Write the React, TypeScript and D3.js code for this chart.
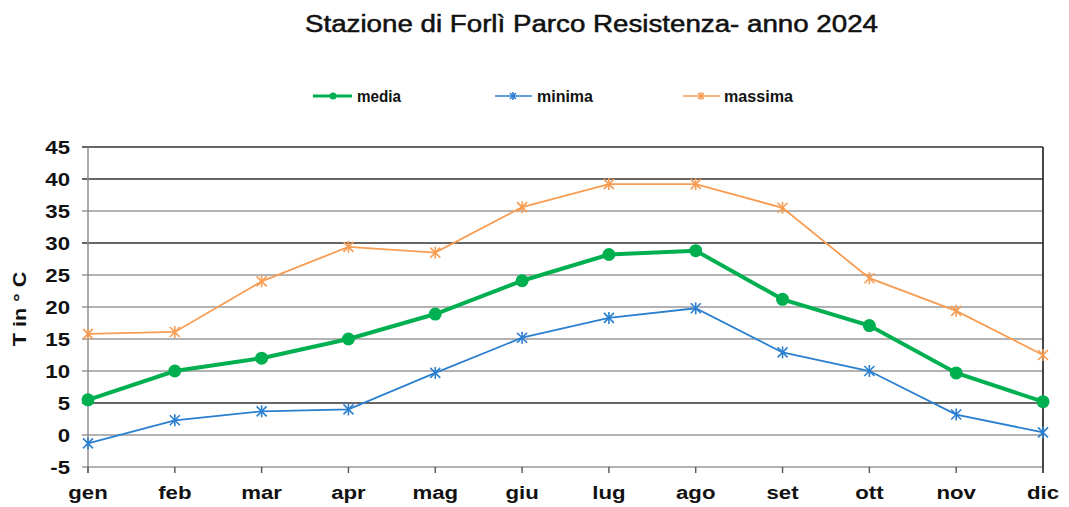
import React from "react";
import * as d3 from "d3";

const months = ["gen", "feb", "mar", "apr", "mag", "giu", "lug", "ago", "set", "ott", "nov", "dic"];
const media = [5.5, 10.0, 12.0, 15.0, 18.9, 24.1, 28.2, 28.8, 21.2, 17.1, 9.7, 5.2];
const minima = [-1.3, 2.3, 3.7, 4.0, 9.7, 15.2, 18.3, 19.8, 12.9, 10.0, 3.2, 0.4];
const massima = [15.8, 16.1, 24.0, 29.4, 28.5, 35.6, 39.2, 39.2, 35.5, 24.5, 19.4, 12.5];
const yTicks = [-5, 0, 5, 10, 15, 20, 25, 30, 35, 40, 45];
const darkGrid = [45, 40, 30, 5];

const GREEN = "#00B050";
const BLUE = "#2A7FD0";
const ORANGE = "#F89C52";
const FONT = "'Liberation Sans', Arial, sans-serif";
const SX = 1.2;

function Star({ x, y, color, s = 5 }: { x: number; y: number; color: string; s?: number }) {
  return (
    <g stroke={color} strokeWidth={1.6}>
      <line x1={x - s} y1={y - s} x2={x + s} y2={y + s} />
      <line x1={x - s} y1={y + s} x2={x + s} y2={y - s} />
      <line x1={x} y1={y - s - 1} x2={x} y2={y + s + 1} />
    </g>
  );
}

export default function App() {
  const W = 1069, H = 507;
  const x0 = 88, x1 = 1043;
  const x = d3.scalePoint<string>().domain(months).range([x0, x1]);
  const y = d3.scaleLinear().domain([-5, 45]).range([467, 147]);
  const line = d3.line<number>().x((_, i) => x(months[i])!).y((d) => y(d));

  return (
    <svg width={W} height={H} style={{ position: "absolute", left: 0, top: 0, background: "#fff" }} fontFamily={FONT}>
      <rect width={W} height={H} fill="#fff" />
      <text x={305} y={32} fontSize={23} fill="#111" textLength={573} lengthAdjust="spacingAndGlyphs" stroke="#111" strokeWidth={0.5}>
        Stazione di Forlì Parco Resistenza- anno 2024
      </text>

      {/* legend */}
      <g fontSize={16.5} fontWeight="bold" fill="#111">
        <line x1={313} x2={352} y1={96} y2={96} stroke={GREEN} strokeWidth={3} />
        <circle cx={333} cy={96} r={3.5} fill={GREEN} />
        <text x={357} y={101.5} textLength={44} lengthAdjust="spacingAndGlyphs">media</text>
        <line x1={495} x2={532} y1={96} y2={96} stroke={BLUE} strokeWidth={1.5} />
        <Star x={513} y={96} color={BLUE} s={3} />
        <text x={537} y={101.5} textLength={56} lengthAdjust="spacingAndGlyphs">minima</text>
        <line x1={683} x2={720} y1={96} y2={96} stroke={ORANGE} strokeWidth={1.5} />
        <Star x={701} y={96} color={ORANGE} s={3} />
        <text x={724} y={101.5} textLength={69} lengthAdjust="spacingAndGlyphs">massima</text>
      </g>

      {/* grid */}
      {yTicks.map((t) => (
        <line
          key={t}
          x1={82}
          x2={x1}
          y1={y(t)}
          y2={y(t)}
          stroke={darkGrid.includes(t) ? "#333" : "#999"}
          strokeWidth={darkGrid.includes(t) ? 1.6 : 1.4}
        />
      ))}
      <line x1={x0} x2={x0} y1={147} y2={473} stroke="#888" strokeWidth={1.4} />
      <line x1={x1} x2={x1} y1={147} y2={473} stroke="#333" strokeWidth={1.8} />
      {months.map((m) => (
        <line key={m} x1={x(m)} x2={x(m)} y1={467} y2={473} stroke="#555" strokeWidth={1.4} />
      ))}

      {/* y labels */}
      <g fontSize={18.5} fontWeight="bold" fill="#111" textAnchor="end">
        {yTicks.map((t) => (
          <text key={t} transform={`translate(70,${y(t) + 6.5}) scale(${SX},1)`}>{t}</text>
        ))}
      </g>
      <text
        transform={`translate(26,${y(20) + 2}) rotate(-90) scale(${SX},1)`}
        textAnchor="middle"
        fontSize={18}
        fontWeight="bold"
        fill="#111"
      >
        T in ° C
      </text>

      {/* x labels */}
      <g fontSize={18.5} fontWeight="bold" fill="#111" textAnchor="middle">
        {months.map((m) => (
          <text key={m} transform={`translate(${x(m)},499) scale(${SX},1)`}>{m}</text>
        ))}
      </g>

      {/* series */}
      <path d={line(massima)!} fill="none" stroke={ORANGE} strokeWidth={1.8} />
      {massima.map((v, i) => <Star key={"mx" + i} x={x(months[i])!} y={y(v)} color={ORANGE} />)}
      <path d={line(minima)!} fill="none" stroke={BLUE} strokeWidth={1.8} />
      {minima.map((v, i) => <Star key={"mn" + i} x={x(months[i])!} y={y(v)} color={BLUE} />)}
      <path d={line(media)!} fill="none" stroke={GREEN} strokeWidth={4} />
      {media.map((v, i) => <circle key={"md" + i} cx={x(months[i])} cy={y(v)} r={6.5} fill={GREEN} />)}
    </svg>
  );
}
